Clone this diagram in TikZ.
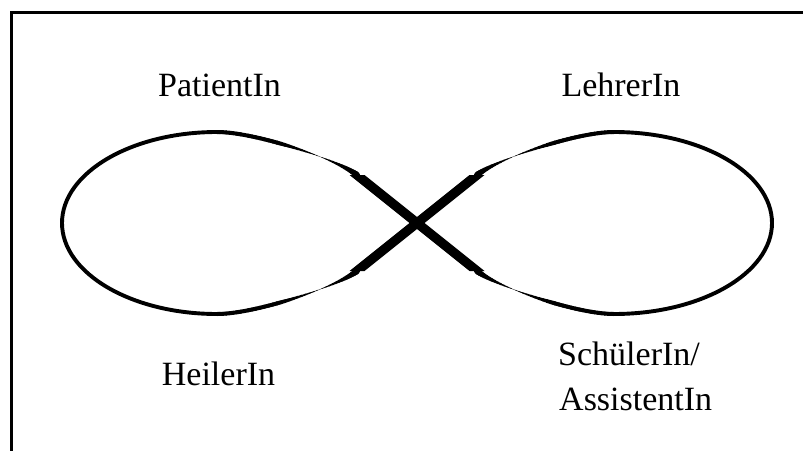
\documentclass[tikz,border=0pt]{standalone}
\usepackage{fontspec}
\setmainfont{Liberation Serif}
\newcommand\taperbranch[5]{%
  \path (#1) .. controls (#2) and (#3) .. (#4)
    \foreach \k in {0,...,40} { coordinate[pos=\k/40] (#5-\k) };
  \foreach \k in {0,...,39} {
    \pgfmathtruncatemacro\kk{\k+1}
    \pgfmathsetmacro\tt{(\k+0.5)/40}
    \pgfmathsetmacro\ww{\tt<0.42 ? 4 : (\tt<0.66 ? 4-(\tt-0.42)*15.8 : 0.2+(\tt-0.66)*18)}
    \draw[line width=\ww pt, line cap=round] (#5-\k) -- (#5-\kk);
  }%
}
\begin{document}
\begin{tikzpicture}[x=1pt,y=-1pt,
  loopline/.style={line width=3.9pt},
  frameline/.style={line width=3pt, line join=miter},
  crossbar/.style={fill=black},
  lbl/.style={font=\fontsize{34}{40}\selectfont, inner sep=0pt, anchor=base}]
\useasboundingbox (0,0) rectangle (803,450);
\fill[white] (0,0) rectangle (803,450);
% frame (top and left edges visible)
\coordinate (fbl) at (11.5,452);
\coordinate (ftl) at (11.5,12.5);
\coordinate (ftr) at (805,12.5);
\draw[frameline] (fbl) -- (ftl) -- (ftr);
% loop key points
\coordinate (TL1) at (217,132);
\coordinate (LL) at (62,223);
\coordinate (BL1) at (217,314);
\coordinate (TR1) at (614,132);
\coordinate (RR) at (772,223);
\coordinate (BR1) at (614,314);
\coordinate (Sul) at (357,175);
\coordinate (Sur) at (477,175);
\coordinate (Sll) at (357,271);
\coordinate (Slr) at (477,271);
% left and right loops
\draw[loopline] (TL1) .. controls (131.4,132) and (62,172.8) .. (LL)
  .. controls (62,273.2) and (131.4,314) .. (BL1);
\draw[loopline] (TR1) .. controls (701.2,132) and (772,172.8) .. (RR)
  .. controls (772,273.2) and (701.2,314) .. (BR1);
% tapered branches towards the crossing
\taperbranch{TL1}{255,132}{337.5,159.3}{Sul}{ul}
\taperbranch{BL1}{255,314}{337.5,286.7}{Sll}{ll}
\taperbranch{TR1}{576,132}{496.5,159.3}{Sur}{ur}
\taperbranch{BR1}{576,314}{496.5,286.7}{Slr}{lr}
% thick crossing bars
\fill[crossbar] ([xshift=-7.5pt]Sul) -- ([xshift=7.5pt]Sul) -- ([xshift=7.5pt]Slr) -- ([xshift=-7.5pt]Slr) -- cycle;
\fill[crossbar] ([xshift=-7.5pt]Sur) -- ([xshift=7.5pt]Sur) -- ([xshift=7.5pt]Sll) -- ([xshift=-7.5pt]Sll) -- cycle;
% labels
\node[lbl] (patient) at (219.5,96) {PatientIn};
\node[lbl] (lehrer) at (621,96) {LehrerIn};
\node[lbl] (heiler) at (218.5,385) {HeilerIn};
\node[lbl, anchor=base west] (schueler) at (558,365) {SchülerIn/};
\node[lbl, anchor=base west] (assistent) at (559,410) {AssistentIn};
\end{tikzpicture}
\end{document}
